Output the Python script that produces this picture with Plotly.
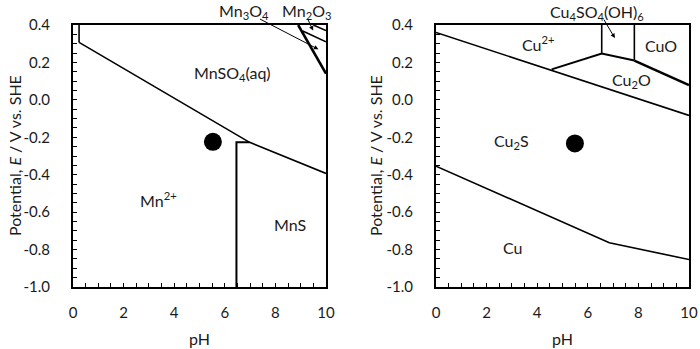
import plotly.graph_objects as go

# ---------------- data ----------------
ph_ticks = [0, 2, 4, 6, 8, 10]
ph_ticktext = ["0", "2", "4", "6", "8", "10"]
e_ticks = [0.4, 0.2, 0.0, -0.2, -0.4, -0.6, -0.8, -1.0]
e_ticktext = ["0.4", "0.2", "0.0", "-0.2", "-0.4", "-0.6", "-0.8", "-1.0"]

# Mn-S-H2O diagram boundaries (pH, E)
mn_top_left_ph = [0.24, 0.24]
mn_top_left_e = [0.4, 0.307]
mn_main_ph = [0.24, 6.98, 10.0]
mn_main_e = [0.307, -0.227, -0.393]
mns_box_ph = [6.46, 6.46, 6.98]
mns_box_e = [-1.0, -0.227, -0.227]
mn_oxide_ph = [8.9, 10.0]
mn_oxide_e = [0.4, 0.14]
mn3o4_ph = [9.08, 10.0]
mn3o4_e = [0.368, 0.31]
mn2o3_ph = [9.5, 10.0]
mn2o3_e = [0.4, 0.37]
mn_point_ph = [5.53]
mn_point_e = [-0.224]

# Cu-S-H2O diagram boundaries (pH, E)
cu_upper_ph = [0.0, 10.0]
cu_upper_e = [0.36, -0.083]
cu2_cu2o_ph = [4.57, 6.55, 7.84]
cu2_cu2o_e = [0.163, 0.248, 0.21]
cu_sulf_left_ph = [6.55, 6.55]
cu_sulf_left_e = [0.248, 0.4]
cu_sulf_right_ph = [7.84, 7.84]
cu_sulf_right_e = [0.21, 0.4]
cuo_ph = [7.84, 10.0]
cuo_e = [0.21, 0.079]
cu_lower_ph = [0.0, 6.85, 10.0]
cu_lower_e = [-0.354, -0.764, -0.853]
cu_point_ph = [5.49]
cu_point_e = [-0.233]

FONT = "Lato"
TXT = "#1a1a1a"
fig = go.Figure()


def line(x, y, xa, ya, w=1.6):
    fig.add_trace(go.Scatter(x=x, y=y, mode="lines", xaxis=xa, yaxis=ya,
                             line=dict(color="black", width=w),
                             showlegend=False, hoverinfo="skip"))


# left panel
line(mn_top_left_ph, mn_top_left_e, "x", "y")
line(mn_main_ph, mn_main_e, "x", "y")
line(mns_box_ph, mns_box_e, "x", "y", 2)
line(mn_oxide_ph, mn_oxide_e, "x", "y", 2.6)
line(mn3o4_ph, mn3o4_e, "x", "y", 1.6)
line(mn2o3_ph, mn2o3_e, "x", "y", 1.6)
fig.add_trace(go.Scatter(x=mn_point_ph, y=mn_point_e, mode="markers", xaxis="x", yaxis="y",
                         marker=dict(color="black", size=18), showlegend=False))

# right panel
line(cu_upper_ph, cu_upper_e, "x2", "y2")
line(cu2_cu2o_ph, cu2_cu2o_e, "x2", "y2", 2)
line(cu_sulf_left_ph, cu_sulf_left_e, "x2", "y2")
line(cu_sulf_right_ph, cu_sulf_right_e, "x2", "y2")
line(cuo_ph, cuo_e, "x2", "y2", 2.4)
line(cu_lower_ph, cu_lower_e, "x2", "y2")
fig.add_trace(go.Scatter(x=cu_point_ph, y=cu_point_e, mode="markers", xaxis="x2", yaxis="y2",
                         marker=dict(color="black", size=18), showlegend=False))

W, H = 700, 349
xd1 = [73 / W, 326 / W]
xd2 = [436 / W, 689 / W]
yd = [1 - 287 / H, 1 - 25 / H]

axfont = dict(family=FONT, size=15, color=TXT)


def xaxis(dom, anchor):
    return dict(domain=dom, anchor=anchor, range=[0, 10], tickvals=ph_ticks, ticktext=ph_ticktext,
                ticks="inside", ticklen=4, tickwidth=1.3, tickcolor="black",
                minor=dict(dtick=0.5, ticks="inside", ticklen=4, tickwidth=1.3, tickcolor="black"),
                showline=True, linecolor="black", linewidth=2, mirror=True, automargin=False,
                showgrid=False, zeroline=False, tickfont=axfont, ticklabelstandoff=11)


def yaxis(dom, anchor):
    return dict(domain=dom, anchor=anchor, range=[-1.0, 0.4], tickvals=e_ticks, ticktext=e_ticktext,
                ticks="inside", ticklen=4, tickwidth=1.3, tickcolor="black",
                minor=dict(dtick=0.05, ticks="inside", ticklen=4, tickwidth=1.3, tickcolor="black"),
                showline=True, linecolor="black", linewidth=2, mirror=True, automargin=False,
                showgrid=False, zeroline=False, tickfont=axfont, ticklabelstandoff=18)


fig.update_layout(
    width=W, height=H, margin=dict(l=0, r=0, t=0, b=0, autoexpand=False),
    paper_bgcolor="white", plot_bgcolor="white",
    xaxis=xaxis(xd1, "y"), yaxis=yaxis(yd, "x"),
    xaxis2=xaxis(xd2, "y2"), yaxis2=yaxis(yd, "x2"),
    font=dict(family=FONT, size=15, color=TXT),
)

lab = dict(showarrow=False, xanchor="center", yanchor="middle",
           font=dict(family=FONT, size=16, color=TXT))
ttl = dict(showarrow=False, xanchor="center", yanchor="middle",
           font=dict(family=FONT, size=16, color=TXT), xref="paper", yref="paper")
annots = [
    dict(x=6.32, y=0.142, xref="x", yref="y", text="MnSO<sub>4</sub>(aq)", **lab),
    dict(x=3.37, y=-0.535, xref="x", yref="y", text="Mn<sup>2+</sup>", **lab),
    dict(x=8.58, y=-0.665, xref="x", yref="y", text="MnS", **lab),
    dict(x=4.04, y=0.30, xref="x2", yref="y2", text="Cu<sup>2+</sup>", **lab),
    dict(x=8.9, y=0.293, xref="x2", yref="y2", text="CuO", **lab),
    dict(x=7.74, y=0.106, xref="x2", yref="y2", text="Cu<sub>2</sub>O", **lab),
    dict(x=2.99, y=-0.224, xref="x2", yref="y2", text="Cu<sub>2</sub>S", **lab),
    dict(x=3.03, y=-0.79, xref="x2", yref="y2", text="Cu", **lab),
    dict(x=6.75, y=1 - 11 / H, xref="x", yref="paper", text="Mn<sub>3</sub>O<sub>4</sub>", **lab),
    dict(x=9.23, y=1 - 11 / H, xref="x", yref="paper", text="Mn<sub>2</sub>O<sub>3</sub>", **lab),
    dict(x=6.38, y=1 - 12 / H, xref="x2", yref="paper",
         text="Cu<sub>4</sub>SO<sub>4</sub>(OH)<sub>6</sub>", **lab),
    # axis titles
    dict(x=14 / W, y=1 - 156 / H, textangle=-90, text="Potential, <i>E</i> / V vs. SHE", **ttl),
    dict(x=375 / W, y=1 - 156 / H, textangle=-90, text="Potential, <i>E</i> / V vs. SHE", **ttl),
    dict(x=sum(xd1) / 2, y=1 - 338 / H, text="pH", **ttl),
    dict(x=sum(xd2) / 2, y=1 - 338 / H, text="pH", **ttl),
]
arrow = dict(showarrow=True, arrowhead=2, arrowsize=0.9, arrowwidth=1, arrowcolor="black", text="")
annots += [
    dict(x=9.7, y=0.27, ax=7.33, ay=0.436, xref="x", yref="y", axref="x", ayref="y", **arrow),
    dict(x=9.49, y=0.37, ax=9.26, ay=0.437, xref="x", yref="y", axref="x", ayref="y", **arrow),
    dict(x=7.07, y=0.33, ax=6.6, ay=0.437, xref="x2", yref="y2", axref="x2", ayref="y2", **arrow),
]
fig.update_layout(annotations=annots)

fig.write_html("out.html", config={"displayModeBar": False},
               post_script="document.body.style.margin='0';document.body.style.overflow='hidden';")
